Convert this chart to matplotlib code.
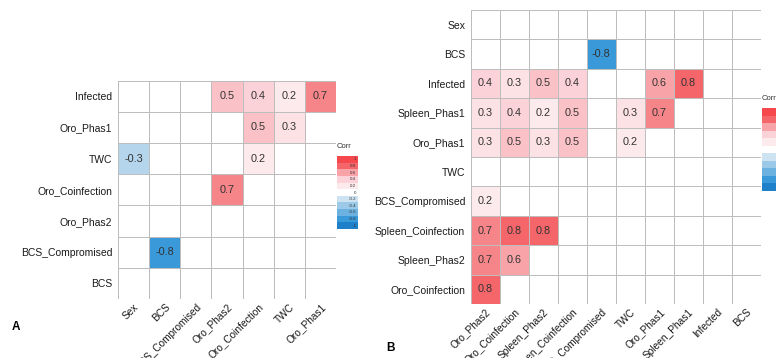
import numpy as np
import matplotlib
matplotlib.use('Agg')
import matplotlib.pyplot as plt
from matplotlib.colors import LinearSegmentedColormap

plt.rcParams['font.family'] = ['Liberation Sans', 'DejaVu Sans']

# panel A
a_cols = ['Sex', 'BCS', 'BCS_Compromised', 'Oro_Phas2', 'Oro_Coinfection', 'TWC', 'Oro_Phas1']
a_rows = ['Infected', 'Oro_Phas1', 'TWC', 'Oro_Coinfection', 'Oro_Phas2', 'BCS_Compromised', 'BCS']
a_vals = [
    [None, None, None, 0.5, 0.4, 0.2, 0.7],
    [None, None, None, None, 0.5, 0.3, None],
    [-0.3, None, None, None, 0.2, None, None],
    [None, None, None, 0.7, None, None, None],
    [None, None, None, None, None, None, None],
    [None, -0.8, None, None, None, None, None],
    [None, None, None, None, None, None, None],
]

# panel B
b_cols = ['Oro_Phas2', 'Oro_Coinfection', 'Spleen_Phas2', 'Spleen_Coinfection', 'BCS_Compromised',
          'TWC', 'Oro_Phas1', 'Spleen_Phas1', 'Infected', 'BCS']
b_rows = ['Sex', 'BCS', 'Infected', 'Spleen_Phas1', 'Oro_Phas1', 'TWC', 'BCS_Compromised',
          'Spleen_Coinfection', 'Spleen_Phas2', 'Oro_Coinfection']
b_vals = [
    [None] * 10,
    [None, None, None, None, -0.8, None, None, None, None, None],
    [0.4, 0.3, 0.5, 0.4, None, None, 0.6, 0.8, None, None],
    [0.3, 0.4, 0.2, 0.5, None, 0.3, 0.7, None, None, None],
    [0.3, 0.5, 0.3, 0.5, None, 0.2, None, None, None, None],
    [None] * 10,
    [0.2, None, None, None, None, None, None, None, None, None],
    [0.7, 0.8, 0.8, None, None, None, None, None, None, None],
    [0.7, 0.6, None, None, None, None, None, None, None, None],
    [0.8, None, None, None, None, None, None, None, None, None],
]

legend_ticks = [1, 0.8, 0.6, 0.4, 0.2, 0, -0.2, -0.4, -0.6, -0.8, -1]

anchors = [(-1, '#1E80C8'), (-0.8, '#3A9AD9'), (-0.3, '#B4D5EB'), (0, '#FFFFFF'),
           (0.2, '#FDEAED'), (0.3, '#FCE2E5'), (0.4, '#FBD3D8'), (0.5, '#FAC3C8'),
           (0.6, '#F8A3A7'), (0.7, '#F6868A'), (0.8, '#F5676B'), (1, '#F4484D')]
cmap = LinearSegmentedColormap.from_list('corr', [((v + 1) / 2, c) for v, c in anchors])

W, H = 776, 358
fig = plt.figure(figsize=(W / 100, H / 100), dpi=100)


def heat(box, rows, cols, vals):
    x0, y0, x1, y1 = box
    ax = fig.add_axes([x0 / W, 1 - y1 / H, (x1 - x0) / W, (y1 - y0) / H])
    m = np.array([[0 if v is None else v for v in r] for r in vals], dtype=float)
    ax.pcolormesh(np.arange(len(cols) + 1), np.arange(len(rows) + 1), m, cmap=cmap,
                  vmin=-1, vmax=1, edgecolors='#BDBDBD', linewidth=0.7)
    for i, r in enumerate(vals):
        for j, v in enumerate(r):
            if v is not None:
                ax.text(j + 0.5, i + 0.5, f'{v:g}', ha='center', va='center',
                        fontsize=7.8, color='#333333')
    ax.set_xlim(0, len(cols))
    ax.set_ylim(len(rows), 0)
    ax.set_xticks(np.arange(len(cols)) + 0.5)
    ax.set_yticks(np.arange(len(rows)) + 0.5)
    ax.set_xticklabels(cols, rotation=45, ha='right', rotation_mode='anchor', fontsize=7.3,
                       color='#1a1a1a')
    ax.set_yticklabels(rows, fontsize=7.5, color='#1a1a1a')
    ax.tick_params(axis='y', length=0, pad=4)
    ax.tick_params(axis='x', length=0, pad=2)
    for s in ax.spines.values():
        s.set_visible(False)
    return ax


def legend(box, title):
    x0, y0, x1, y1 = box
    cax = fig.add_axes([x0 / W, 1 - y1 / H, (x1 - x0) / W, (y1 - y0) / H])
    vals = np.array(legend_ticks, dtype=float).reshape(-1, 1)
    cax.pcolormesh([0, 1], np.arange(len(legend_ticks) + 1), vals, cmap=cmap, vmin=-1, vmax=1)
    cax.set_ylim(len(legend_ticks), 0)
    cax.set_xlim(0, 1)
    for i, t in enumerate(legend_ticks):
        cax.text(0.92, i + 0.5, f'{t:g}', ha='right', va='center', fontsize=3.2, color='#333333')
    cax.axis('off')
    fig.text(x0 / W, 1 - (y0 - 9) / H, title, fontsize=5.5, ha='left', va='center', color='#333333')


heat((118, 80.7, 336, 299), a_rows, a_cols, a_vals)
heat((470.7, 10, 761, 304), b_rows, b_cols, b_vals)
legend((337, 156, 358, 229), 'Corr')
legend((762, 108, 786, 191), 'Corr')

fig.text(12 / W, 1 - 327 / H, 'A', fontsize=8.5, fontweight='bold', ha='left', va='center')
fig.text(386 / W, 1 - 348 / H, 'B', fontsize=8.5, fontweight='bold', ha='left', va='center')

fig.savefig('out.png', dpi=100)
